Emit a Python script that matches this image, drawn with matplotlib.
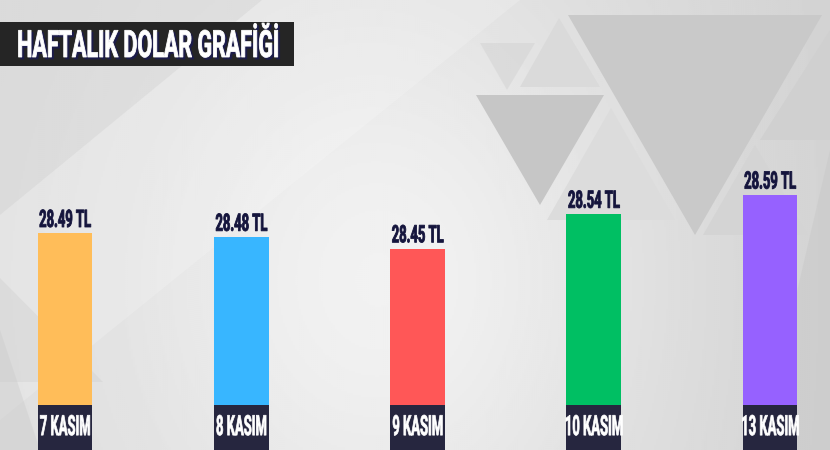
import numpy as np
import matplotlib
matplotlib.use("Agg")
import matplotlib.pyplot as plt
from matplotlib.colors import to_rgba
from matplotlib.patches import Polygon, Rectangle
from matplotlib.patheffects import AbstractPathEffect
from matplotlib.transforms import Affine2D, blended_transform_factory

# data
days = ["7 KASIM", "8 KASIM", "9 KASIM", "10 KASIM", "13 KASIM"]
rates = [28.49, 28.48, 28.45, 28.54, 28.59]
bar_colors = ["#FFBD59", "#38B6FF", "#FF5757", "#00BF63", "#9661FF"]
title = "HAFTALIK DOLAR GRAFİĞİ"

NAVY = "#26263F"
TEXT_NAVY = "#14143C"
FONT = ["Roboto", "DejaVu Sans"]


class Stretch(AbstractPathEffect):
    """scale glyphs (fake condensed font), optional bolder outline and drop shadow"""
    def __init__(self, sx, sy=1.0, anchor="center", lw=0.0, shadow=None, offset=(2, -2)):
        super().__init__()
        self.sx, self.sy = sx, sy
        self.anchor = anchor
        self.lw = lw
        self.shadow = to_rgba(shadow) if shadow is not None else None
        self.off = offset

    def draw_path(self, renderer, gc, tpath, affine, rgbFace=None):
        ext = tpath.get_extents()
        x0 = ext.x0 if self.anchor == "left" else (ext.x0 + ext.x1) / 2
        t = Affine2D().translate(-x0, 0).scale(self.sx, self.sy).translate(x0, 0) + affine
        if self.shadow is not None:
            gc0 = renderer.new_gc()
            gc0.copy_properties(gc)
            gc0.set_foreground(self.shadow)
            gc0.set_linewidth(self.lw)
            renderer.draw_path(gc0, tpath, t + Affine2D().translate(*self.off), self.shadow)
            gc0.restore()
        gc1 = renderer.new_gc()
        gc1.copy_properties(gc)
        gc1.set_foreground(rgbFace)
        gc1.set_linewidth(self.lw)
        renderer.draw_path(gc1, tpath, t, rgbFace)
        gc1.restore()


fig = plt.figure(figsize=(8.3, 4.5), dpi=100)

# background
bg = fig.add_axes([0, 0, 1, 1], zorder=0)
bg.set_xlim(0, 830)
bg.set_ylim(450, 0)
bg.axis("off")
xx, yy = np.meshgrid(np.linspace(0, 830, 415), np.linspace(0, 450, 225))
shade = 0.865 + 0.085 * np.exp(-((xx - 390) / 260) ** 2) * np.exp(-((yy - 280) / 300) ** 2)
shade -= 0.04 * (xx / 830) ** 3
bg.imshow(shade, cmap="gray", vmin=0, vmax=1, extent=(0, 830, 450, 0), aspect="auto")

tris = [
    ([(0, 0), (262, 0), (0, 215)], "#d6d6d6", 0.35),
    ([(262, 0), (520, 0), (0, 420), (0, 215)], "#ffffff", 0.18),
    ([(0, 278), (103, 382), (0, 382)], "#d2d2d2", 0.45),
    ([(0, 330), (40, 450), (0, 450)], "#cfcfcf", 0.5),
    ([(480, 43), (535, 43), (507, 90)], "#d2d2d2", 0.5),
    ([(559, 18), (520, 87), (600, 87)], "#dadada", 1),
    ([(568, 15), (822, 15), (695, 235)], "#c9c9c9", 1),
    ([(476, 95), (604, 95), (540, 205)], "#c6c6c6", 1),
    ([(611, 108), (547, 220), (675, 220)], "#dcdcdc", 1),
    ([(755, 145), (703, 235), (808, 235)], "#d4d4d4", 1),
    ([(830, 30), (760, 140), (830, 140)], "#d0d0d0", 1),
    ([(830, 150), (760, 450), (830, 450)], "#c8c8c8", 0.5),
]
for pts, c, a in tris:
    bg.add_patch(Polygon(pts, closed=True, facecolor=c, edgecolor="none", alpha=a))

# title box
bg.add_patch(Rectangle((0, 22), 294, 44, facecolor="#252525", edgecolor="none"))
fig.text(17 / 830, 1 - 57 / 450, title, color="white", fontsize=18, fontweight="bold",
         family=FONT, ha="left", va="baseline", zorder=5,
         path_effects=[Stretch(0.86, 1.5, anchor="left", lw=0.6,
                               shadow="#1c1c4a", offset=(2, -2))])

# bars
ax = fig.add_axes([0, 0, 1, 1], zorder=1)
ax.patch.set_alpha(0)
ax.axis("off")
base = 27.925
x = np.arange(len(days))
w = 0.31
ax.set_xlim(-0.369, 4.34)
ax.set_ylim(base, 29.098)
heights = np.array(rates) - base
ax.bar(x, heights, bottom=base, width=w, color=bar_colors, zorder=2)

for xi, r in zip(x, rates):
    ax.annotate(f"{r:.2f} TL", (xi, r), xytext=(0, 4.5), textcoords="offset points",
                ha="center", va="baseline", fontsize=12, fontweight="bold",
                color=TEXT_NAVY, family=FONT,
                path_effects=[Stretch(0.78, 1.45, lw=0.6)])

trans = blended_transform_factory(ax.transData, ax.transAxes)
for xi, d in zip(x, days):
    ax.add_patch(Rectangle((xi - w / 2, 0), w, 0.1, transform=trans,
                           facecolor=NAVY, edgecolor="none", zorder=3))
    ax.text(xi, 0.033, d, transform=trans, ha="center", va="baseline",
            fontsize=13, fontweight="bold", color="white", family=FONT, zorder=4,
            path_effects=[Stretch(0.72, 1.55, lw=0.5)])

fig.savefig("out.png", dpi=100)
